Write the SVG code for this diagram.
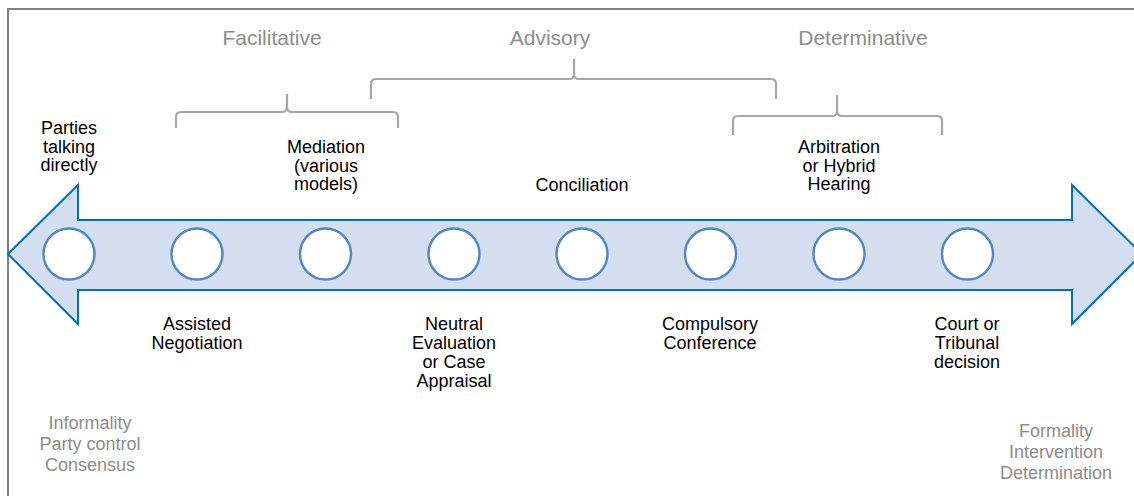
<svg xmlns="http://www.w3.org/2000/svg" width="1134" height="496" viewBox="0 0 1134 496">
<style>
.lbl{font-family:"Liberation Sans",Arial,sans-serif;font-size:18px;fill:#000;text-anchor:middle}
.cat{font-family:"Liberation Sans",Arial,sans-serif;font-size:21px;fill:#8c8c8c;text-anchor:middle}
.gry{font-family:"Liberation Sans",Arial,sans-serif;font-size:18px;fill:#8c8c8c;text-anchor:middle}
.brace{fill:none;stroke:#a6a6a6;stroke-width:2.2}
.dot{fill:#fff;stroke:#5586c2;stroke-width:2.4}
</style>
<rect width="1134" height="496" fill="#fff"/>
<path d="M8,496 V9 H1134" fill="none" stroke="#808080" stroke-width="2"/>
<g id="arrow">
<path d="M8,254 L78,185 V220 H1072 V185 L1142,254 L1072,324 V290 H78 V324 Z" fill="#d3deef" stroke="#0070c0" stroke-width="2" stroke-linejoin="miter"/>
</g>
<g id="connectors">
<path class="brace" d="M176,128 V117 Q176,112 181,112 H282 Q287,112 287,107 V94 M287,107 Q287,112 292,112 H393 Q398,112 398,117 V128"/>
<path class="brace" d="M371,99 V84 Q371,79 376,79 H569 Q574,79 574,74 V59 M574,74 Q574,79 579,79 H771 Q776,79 776,84 V99"/>
<path class="brace" d="M733,135 V121 Q733,116 738,116 H832 Q837,116 837,111 V95 M837,111 Q837,116 842,116 H937 Q942,116 942,121 V135"/>
</g>
<g id="n1"><circle class="dot" cx="69" cy="254" r="25.5"/><text class="lbl" x="69" y="134">Parties</text><text class="lbl" x="69" y="152.5">talking</text><text class="lbl" x="69" y="171">directly</text></g>
<g id="n2"><circle class="dot" cx="197" cy="254" r="25.5"/><text class="lbl" x="197" y="330">Assisted</text><text class="lbl" x="197" y="349">Negotiation</text></g>
<g id="n3"><circle class="dot" cx="325.5" cy="254" r="25.5"/><text class="lbl" x="326" y="153">Mediation</text><text class="lbl" x="326" y="171.5">(various</text><text class="lbl" x="326" y="190">models)</text></g>
<g id="n4"><circle class="dot" cx="454" cy="254" r="25.5"/><text class="lbl" x="454" y="330">Neutral</text><text class="lbl" x="454" y="349">Evaluation</text><text class="lbl" x="454" y="368">or Case</text><text class="lbl" x="454" y="387">Appraisal</text></g>
<g id="n5"><circle class="dot" cx="582" cy="254" r="25.5"/><text class="lbl" x="582" y="191">Conciliation</text></g>
<g id="n6"><circle class="dot" cx="710.5" cy="254" r="25.5"/><text class="lbl" x="710" y="330">Compulsory</text><text class="lbl" x="710" y="349">Conference</text></g>
<g id="n7"><circle class="dot" cx="839" cy="254" r="25.5"/><text class="lbl" x="839" y="153">Arbitration</text><text class="lbl" x="839" y="171.5">or Hybrid</text><text class="lbl" x="839" y="190">Hearing</text></g>
<g id="n8"><circle class="dot" cx="967.5" cy="254" r="25.5"/><text class="lbl" x="967" y="330">Court or</text><text class="lbl" x="967" y="349">Tribunal</text><text class="lbl" x="967" y="368">decision</text></g>
<g id="categories">
<text class="cat" x="272" y="45">Facilitative</text>
<text class="cat" x="550" y="45">Advisory</text>
<text class="cat" x="863" y="45">Determinative</text>
</g>
<g id="ends">
<text class="gry" x="90" y="429">Informality</text><text class="gry" x="90" y="450">Party control</text><text class="gry" x="90" y="471">Consensus</text>
<text class="gry" x="1056" y="437">Formality</text><text class="gry" x="1056" y="458">Intervention</text><text class="gry" x="1056" y="479">Determination</text>
</g>
</svg>
